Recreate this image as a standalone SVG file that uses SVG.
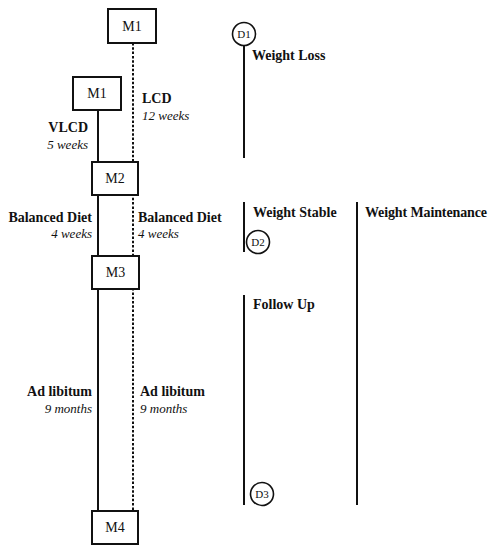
<svg xmlns="http://www.w3.org/2000/svg" width="495" height="550" viewBox="0 0 495 550">
<style>
.box{fill:#fff;stroke:#111;stroke-width:2}
.solid{stroke:#111;stroke-width:2;fill:none}
.dot{stroke:#111;stroke-width:2;stroke-dasharray:2.5 1.8;fill:none}
.bar{stroke:#111;stroke-width:2;fill:none}
.circ{fill:#fff;stroke:#111;stroke-width:1.6}
.m{font-family:"Liberation Serif",serif;font-size:14px;fill:#111;text-anchor:middle}
.lb{font-family:"Liberation Serif",serif;font-size:14px;font-weight:bold;fill:#111}
.it{font-family:"Liberation Serif",serif;font-size:13px;font-style:italic;fill:#111}
.r{text-anchor:end}
.ph{font-family:"Liberation Serif",serif;font-size:14px;font-weight:bold;fill:#111}
.d{font-family:"Liberation Serif",serif;font-size:11px;fill:#111;text-anchor:middle}
</style>
<rect width="495" height="550" fill="#fff"/>
<g id="connectors">
<line class="dot" x1="133" y1="43" x2="133" y2="511"/>
<line class="solid" x1="98" y1="110" x2="98" y2="162"/>
<line class="solid" x1="98" y1="195" x2="98" y2="256"/>
<line class="solid" x1="98" y1="289" x2="98" y2="511"/>
<line class="bar" x1="244" y1="45" x2="244" y2="158"/>
<line class="bar" x1="244" y1="202" x2="244" y2="252"/>
<line class="bar" x1="244" y1="295" x2="244" y2="505"/>
<line class="bar" x1="357" y1="202" x2="357" y2="505"/>
</g>
<g id="M1-top"><rect class="box" x="108" y="9" width="48" height="34"/><text class="m" x="132" y="31">M1</text></g>
<g id="M1-left"><rect class="box" x="73" y="77" width="48" height="33"/><text class="m" x="97" y="98">M1</text></g>
<g id="M2"><rect class="box" x="92" y="162" width="46" height="33"/><text class="m" x="115" y="183">M2</text></g>
<g id="M3"><rect class="box" x="92" y="256" width="47" height="33"/><text class="m" x="115.5" y="277">M3</text></g>
<g id="M4"><rect class="box" x="92" y="511" width="46" height="33"/><text class="m" x="115" y="532">M4</text></g>
<g id="labels">
<text class="lb r" x="88" y="132">VLCD</text>
<text class="it r" x="88" y="149">5 weeks</text>
<text class="lb" x="142" y="103">LCD</text>
<text class="it" x="142" y="120">12 weeks</text>
<text class="lb r" x="92" y="222">Balanced Diet</text>
<text class="it r" x="92" y="238">4 weeks</text>
<text class="lb" x="138" y="222">Balanced Diet</text>
<text class="it" x="138" y="238">4 weeks</text>
<text class="lb r" x="92" y="396">Ad libitum</text>
<text class="it r" x="92" y="413">9 months</text>
<text class="lb" x="140" y="396">Ad libitum</text>
<text class="it" x="140" y="413">9 months</text>
</g>
<g id="D1"><circle class="circ" cx="244" cy="34" r="11.5"/><text class="d" x="244" y="38">D1</text></g>
<g id="D2"><circle class="circ" cx="258" cy="242" r="11.5"/><text class="d" x="258" y="246">D2</text></g>
<g id="D3"><circle class="circ" cx="262" cy="494" r="11.5"/><text class="d" x="262" y="498">D3</text></g>
<g id="phases">
<text class="ph" x="252" y="60">Weight Loss</text>
<text class="ph" x="253" y="217">Weight Stable</text>
<text class="ph" x="365" y="217" textLength="122">Weight Maintenance</text>
<text class="ph" x="253" y="309">Follow Up</text>
</g>
</svg>
